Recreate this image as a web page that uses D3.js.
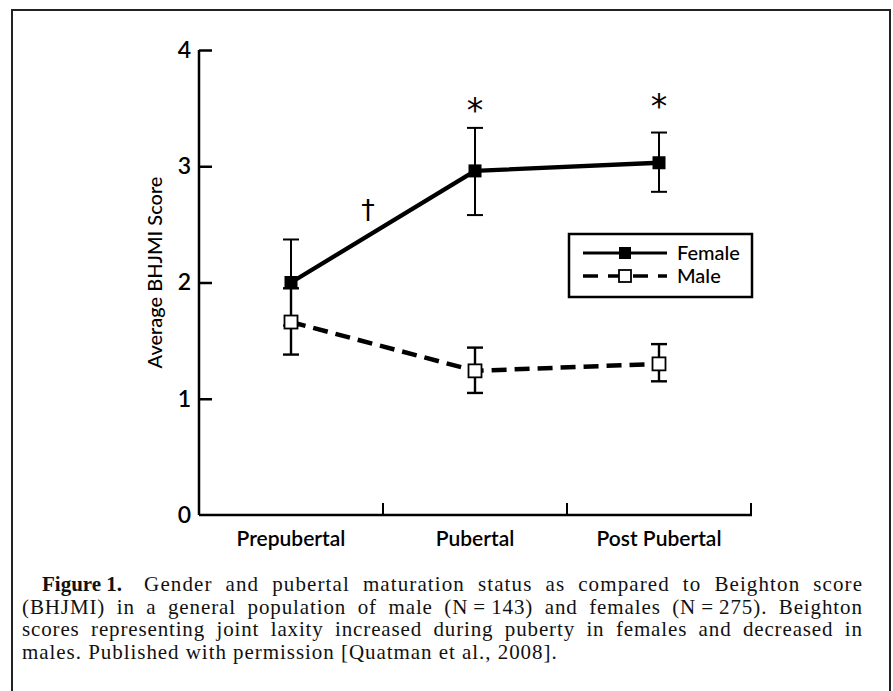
<!DOCTYPE html>
<html><head><meta charset="utf-8">
<script src="https://cdn.jsdelivr.net/npm/d3@7"></script>
<style>body{margin:0;background:#fff}</style>
</head><body>
<svg id="c" width="893" height="691"></svg>
<script>
// ---- data ----
const categories = ["Prepubertal", "Pubertal", "Post Pubertal"];
const femaleMean  = [2.00, 2.96, 3.03];
const femaleUpper = [2.37, 3.33, 3.29];
const femaleLower = [1.63, 2.58, 2.78];
const maleMean    = [1.66, 1.24, 1.30];
const maleUpper   = [1.95, 1.44, 1.47];
const maleLower   = [1.38, 1.05, 1.15];
const yTicks = [0, 1, 2, 3, 4];
const seriesNames = ["Female", "Male"];
const sigCats = ["Pubertal", "Post Pubertal"];
const sigYs = [3.54, 3.58];
const daggerY = 2.62;
const yLabel = "Average BHJMI Score";
const captionBold = "Figure 1.";
const captionLines = [
  "Gender and pubertal maturation status as compared to Beighton score",
  "(BHJMI) in a general population of male (N\u2009=\u2009143) and females (N\u2009=\u2009275). Beighton",
  "scores representing joint laxity increased during puberty in females and decreased in",
  "males. Published with permission [Quatman et al., 2008]."
];

// ---- layout ----
const svg = d3.select("#c");
const sans = "Lato, 'Open Sans', sans-serif";
const serif = "'Liberation Serif', 'DejaVu Serif', serif";
const x = d3.scaleBand().domain(categories).range([199, 751]);
const xc = c => x(c) + x.bandwidth() / 2;
const y = d3.scaleLinear().domain([0, 4]).range([515, 50]);

// frame
svg.append("path").attr("d", "M12,700V10H890V700")
  .attr("fill", "none").attr("stroke", "#222").attr("stroke-width", 2);

// y axis
const ya = svg.append("g").attr("transform", "translate(199,0)")
  .call(d3.axisRight(y).tickValues(yTicks).tickSize(13).tickFormat(d3.format("d")));
ya.select(".domain").attr("stroke", "#000").attr("stroke-width", 2.5).attr("d", `M0,${y(4)}V${y(0)}`);
ya.selectAll(".tick line").attr("stroke", "#000").attr("stroke-width", 2.5);
ya.selectAll(".tick text").attr("x", -8).attr("text-anchor", "end")
  .attr("font-family", sans).attr("font-size", 23).attr("font-weight", 600).attr("fill", "#000");
ya.selectAll(".tick").filter(d => d === 0).select("line").remove();

// x axis
const bounds = categories.map(c => x(c) + x.bandwidth());
const xa = svg.append("g").attr("transform", `translate(0,${y(0)})`)
  .call(d3.axisTop(x).tickSize(0).tickFormat(""));
xa.select(".domain").attr("stroke", "#000").attr("stroke-width", 2.5).attr("d", `M199,0H${bounds[2] + 1}`);
xa.selectAll(".tick").remove();
svg.selectAll(".xb").data(bounds).join("line").attr("class", "xb")
  .attr("x1", d => d).attr("x2", d => d).attr("y1", y(0)).attr("y2", y(0) - 12)
  .attr("stroke", "#000").attr("stroke-width", 2);
svg.selectAll(".xl").data(categories).join("text").attr("class", "xl")
  .attr("x", d => xc(d)).attr("y", y(0) + 31).attr("text-anchor", "middle")
  .attr("font-family", sans).attr("font-size", 21).attr("font-weight", 600).text(d => d);

// y label
svg.append("text").attr("transform", `translate(162,${(y(0) + y(4)) / 2 - 10}) rotate(-90)`)
  .attr("text-anchor", "middle").attr("font-family", sans).attr("font-size", 20).attr("font-weight", 500)
  .text(yLabel);

// error bars
function errBars(up, lo, w) {
  const g = svg.append("g").attr("stroke", "#000").attr("stroke-width", w);
  categories.forEach((c, i) => {
    const cx = xc(c);
    g.append("line").attr("x1", cx).attr("x2", cx).attr("y1", y(up[i])).attr("y2", y(lo[i]));
    [up[i], lo[i]].forEach(v => g.append("line").attr("x1", cx - 8).attr("x2", cx + 8).attr("y1", y(v)).attr("y2", y(v)));
  });
}
errBars(femaleUpper, femaleLower, 2);
errBars(maleUpper, maleLower, 2.4);

// lines
const line = d3.line().x((d, i) => xc(categories[i])).y(d => y(d));
svg.append("path").attr("d", line(maleMean)).attr("fill", "none").attr("stroke", "#000")
  .attr("stroke-width", 4.5).attr("stroke-dasharray", "15,8");
svg.append("path").attr("d", line(femaleMean)).attr("fill", "none").attr("stroke", "#000")
  .attr("stroke-width", 4.3);

// markers
const ms = 13;
svg.selectAll(".mm").data(maleMean).join("rect").attr("class", "mm")
  .attr("x", (d, i) => xc(categories[i]) - ms / 2).attr("y", d => y(d) - ms / 2)
  .attr("width", ms).attr("height", ms).attr("fill", "#fff").attr("stroke", "#000").attr("stroke-width", 1.8);
svg.selectAll(".fm").data(femaleMean).join("rect").attr("class", "fm")
  .attr("x", (d, i) => xc(categories[i]) - ms / 2).attr("y", d => y(d) - ms / 2)
  .attr("width", ms).attr("height", ms).attr("fill", "#000");

// significance marks
svg.selectAll(".sig").data(sigCats).join("text").attr("class", "sig")
  .attr("x", d => xc(d)).attr("y", (d, i) => y(sigYs[i]) + 19).attr("text-anchor", "middle")
  .attr("font-family", "'DejaVu Sans', sans-serif").attr("font-size", 33).text("*");
svg.append("text").attr("x", bounds[0] - 15).attr("y", y(daggerY) + 9).attr("text-anchor", "middle")
  .attr("font-family", "'DejaVu Sans', sans-serif").attr("font-size", 27).text("\u2020");

// legend
const lg = svg.append("g");
lg.append("rect").attr("x", 569).attr("y", 234).attr("width", 183).attr("height", 63)
  .attr("fill", "#fff").attr("stroke", "#000").attr("stroke-width", 2.5);
const legY = [253, 276];
lg.append("line").attr("x1", 583).attr("x2", 667).attr("y1", legY[0]).attr("y2", legY[0])
  .attr("stroke", "#000").attr("stroke-width", 3);
lg.append("rect").attr("x", 625 - 6).attr("y", legY[0] - 6).attr("width", 12).attr("height", 12).attr("fill", "#000");
lg.append("line").attr("x1", 583).attr("x2", 667).attr("y1", legY[1]).attr("y2", legY[1])
  .attr("stroke", "#000").attr("stroke-width", 3.5).attr("stroke-dasharray", "15,10");
lg.append("rect").attr("x", 625 - 6).attr("y", legY[1] - 6).attr("width", 12).attr("height", 12)
  .attr("fill", "#fff").attr("stroke", "#000").attr("stroke-width", 1.8);
lg.selectAll(".lt").data(seriesNames).join("text").attr("class", "lt")
  .attr("x", 677).attr("y", (d, i) => legY[i] + 7).attr("font-family", sans)
  .attr("font-size", 20).attr("font-weight", 500).text(d => d);

// caption: justified with a mix of letter and word spacing
const capY = [591, 613.5, 636, 658.5];
const right = 862, left = 22;
const cap = svg.append("g").attr("font-family", serif).attr("font-size", 21).attr("fill", "#111");
const fb = cap.append("text").attr("x", 42).attr("y", capY[0]).attr("font-weight", "bold").text(captionBold);
const fbEnd = 42 + fb.node().getComputedTextLength();
const starts = [fbEnd + 22, left, left, left];
let ls = [];
captionLines.forEach((t, i) => {
  const el = cap.append("text").attr("x", starts[i]).attr("y", capY[i]).text(t);
  if (i < 3) {
    const nat = el.node().getComputedTextLength();
    const extra = right - starts[i] - nat;
    const chars = t.length - 1;
    const spaces = (t.match(/ /g) || []).length;
    const l = Math.max(0, extra * 0.55 / chars);
    ls.push(l);
    el.attr("letter-spacing", l);
    el.attr("word-spacing", (extra - l * chars) / spaces);
  } else {
    el.attr("letter-spacing", d3.mean(ls));
  }
});
</script>
</body></html>
